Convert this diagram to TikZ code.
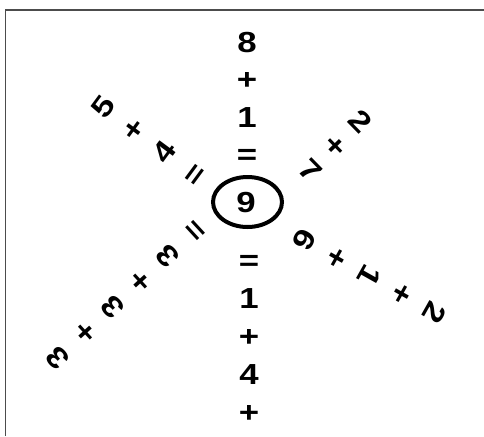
\documentclass[tikz,border=0pt]{standalone}
\usepackage{fontspec}
\setmainfont{Liberation Sans}
\usetikzlibrary{calc,shapes.geometric}

\tikzset{
  glyph/.style={rotate=#1, xscale=1.2, inner sep=0pt,
    text height=20.8pt, text depth=0pt,
    font=\fontsize{29}{32}\selectfont\bfseries},
  glyph/.default=0,
  ring/.style={draw, ellipse, line width=4pt, inner sep=0pt,
    minimum width=69pt, minimum height=50pt},
  frame/.style={line width=1.6pt, black!70},
}

\begin{document}
\begin{tikzpicture}[x=1pt,y=-1pt]

\useasboundingbox (0,0) rectangle (484,436);

% Frame (left and top only)
\draw[frame] (5.5,436) -- (5.5,10) -- (484,10);

% Centre
\node[ring] (ring) at (247.5,202) {};
\node[glyph] (nine) at (246,202) {9};

% ---- Ray: up ----
\coordinate (upA) at (247,154);
\coordinate (upB) at (247,42);
\foreach \g [count=\i from 0] in {=,1,+,8}
  \node[glyph] (up\i) at ($(upA)!\i/3!(upB)$) {\g};

% ---- Ray: down ----
\coordinate (dnA) at (249,260);
\coordinate (dnB) at (249,412);
\foreach \g [count=\i from 0] in {=,1,+,4,+}
  \node[glyph] (dn\i) at ($(dnA)!\i/4!(dnB)$) {\g};

% ---- Ray: upper left ----
\coordinate (ulA) at (194,174);
\coordinate (ulB) at (103,107);
\foreach \g [count=\i from 0] in {=,4,+,5}
  \node[glyph=53.6] (ul\i) at ($(ulA)!\i/3!(ulB)$) {\g};

% ---- Ray: upper right ----
\coordinate (urA) at (311,170);
\coordinate (urB) at (361,121);
\foreach \g [count=\i from 0] in {7,+,2}
  \node[glyph=-45.6] (ur\i) at ($(urA)!\i/2!(urB)$) {\g};

% ---- Ray: lower right ----
\coordinate (lrA) at (305,240);
\coordinate (lrB) at (435,313);
\foreach \g [count=\i from 0] in {6,+,1,+,2}
  \node[glyph=-119.3] (lr\i) at ($(lrA)!\i/4!(lrB)$) {\g};

% ---- Ray: lower left ----
\coordinate (llA) at (195,231);
\coordinate (llB) at (57,358);
\foreach \g [count=\i from 0] in {=,3,+,3,+,3}
  \node[glyph=132.6] (ll\i) at ($(llA)!\i/5!(llB)$) {\g};

\end{tikzpicture}
\end{document}
